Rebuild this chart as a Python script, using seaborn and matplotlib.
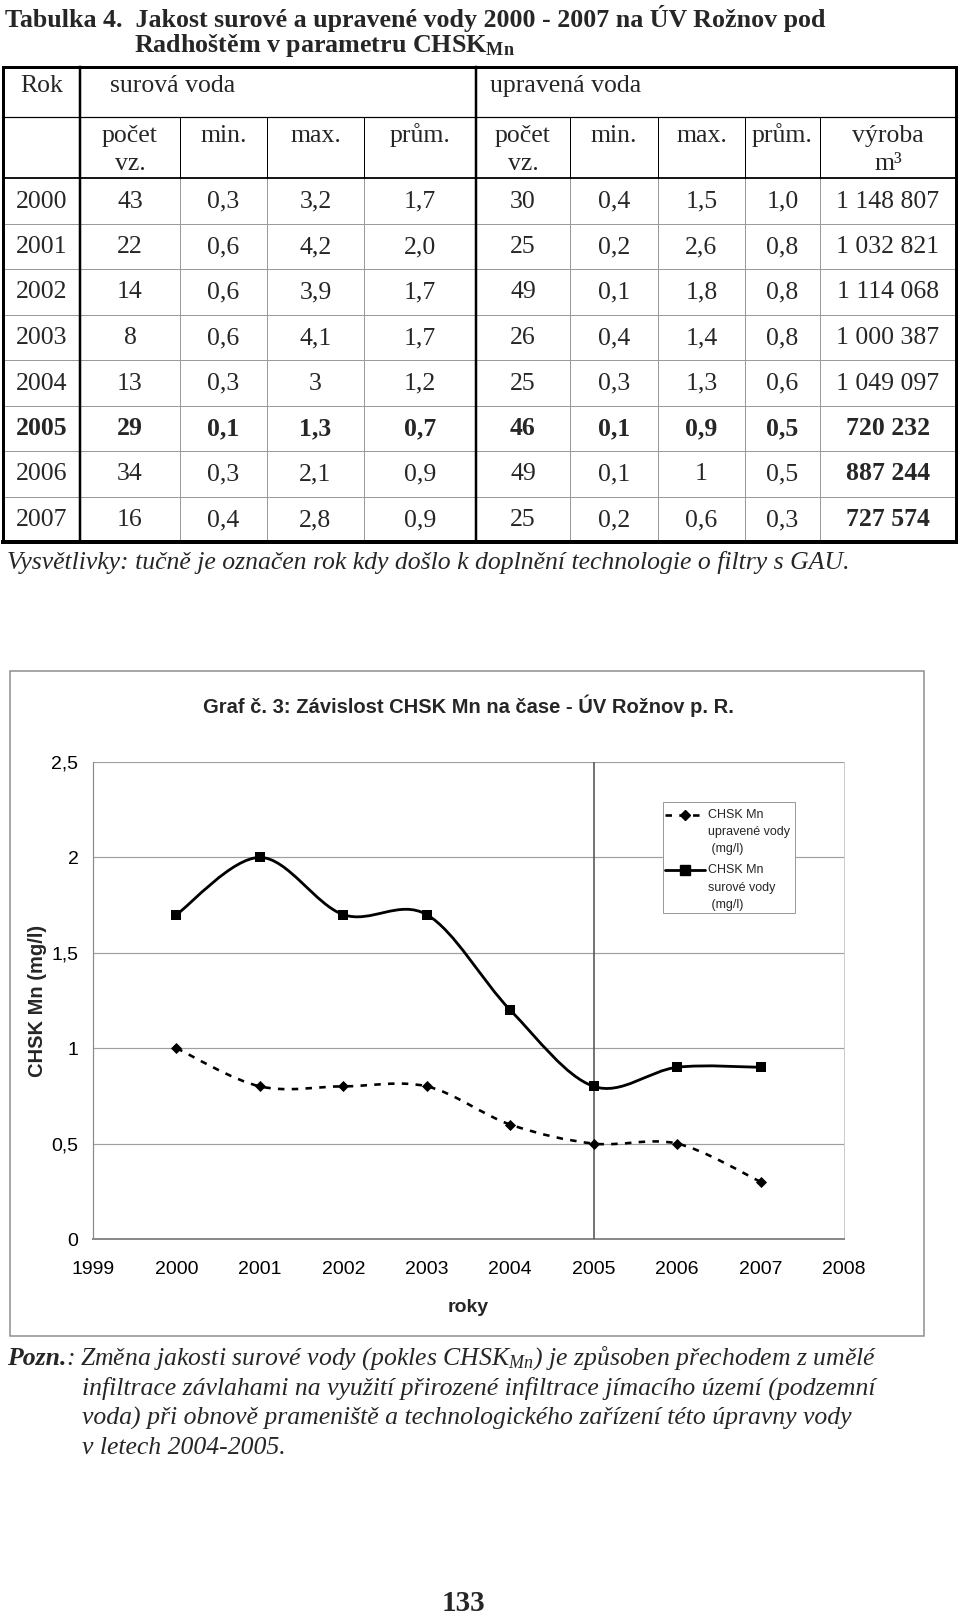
import numpy as np
import matplotlib
matplotlib.use('Agg')
import matplotlib.pyplot as plt
from matplotlib.path import Path
from matplotlib.patches import PathPatch, Rectangle
import seaborn as sns

# ---- table data (Tabulka 4) ----
roky = ['2000', '2001', '2002', '2003', '2004', '2005', '2006', '2007']
sur_pocet = ['43', '22', '14', '8', '13', '29', '34', '16']
sur_min = ['0,3', '0,6', '0,6', '0,6', '0,3', '0,1', '0,3', '0,4']
sur_max = ['3,2', '4,2', '3,9', '4,1', '3', '1,3', '2,1', '2,8']
sur_prum = ['1,7', '2,0', '1,7', '1,7', '1,2', '0,7', '0,9', '0,9']
upr_pocet = ['30', '25', '49', '26', '25', '46', '49', '25']
upr_min = ['0,4', '0,2', '0,1', '0,4', '0,3', '0,1', '0,1', '0,2']
upr_max = ['1,5', '2,6', '1,8', '1,4', '1,3', '0,9', '1', '0,6']
upr_prum = ['1,0', '0,8', '0,8', '0,8', '0,6', '0,5', '0,5', '0,3']
vyroba = ['1 148 807', '1 032 821', '1 114 068', '1 000 387', '1 049 097',
          '720 232', '887 244', '727 574']
bold_rows = ['2005']
bold_vyroba = ['2005', '2006', '2007']

# ---- chart data (Graf c. 3) ----
graf_roky = [2000, 2001, 2002, 2003, 2004, 2005, 2006, 2007]
graf_upravena = [1.0, 0.8, 0.8, 0.8, 0.6, 0.5, 0.5, 0.3]
graf_surova = [1.7, 2.0, 1.7, 1.7, 1.2, 0.8, 0.9, 0.9]
x_ticks = list(range(1999, 2009))
y_ticks = [0, 0.5, 1, 1.5, 2, 2.5]
y_labels = ['0', '0,5', '1', '1,5', '2', '2,5']

sns.set_theme(style='white')
plt.rcParams['font.family'] = ['Liberation Serif', 'DejaVu Serif']
plt.rcParams['mathtext.fontset'] = 'custom'
plt.rcParams['mathtext.rm'] = 'Liberation Serif'
plt.rcParams['mathtext.it'] = 'Liberation Serif:italic'
plt.rcParams['mathtext.bf'] = 'Liberation Serif:bold'

W, H = 960, 1614
fig = plt.figure(figsize=(W / 100, H / 100), dpi=100)
fig.patch.set_facecolor('white')

# page layout axes in pixel coordinates, drawn above the chart axes
bg = fig.add_axes([0, 0, 1, 1])
bg.set_xlim(0, W)
bg.set_ylim(H, 0)
bg.axis('off')
bg.set_zorder(3)

PX = 72 / 100  # points per pixel
SERIF = ['Liberation Serif', 'DejaVu Serif']
SANS = ['Liberation Sans', 'DejaVu Sans']
TFS = 18.5  # table font size
CFS = 14  # chart font size


def line(x0, y0, x1, y1, lw, color='black'):
    bg.plot([x0, x1], [y0, y1], color=color, lw=lw * PX, solid_capstyle='projecting')


# ---- title ----
bg.text(5, 27, 'Tabulka 4.  Jakost surové a upravené vody 2000 - 2007 na ÚV Rožnov pod',
        fontsize=18.7, fontweight='bold', family=SERIF, va='baseline', ha='left')
bg.text(134, 52, r'Radhoštěm v parametru CHSK$_{\mathbf{Mn}}$',
        fontsize=18.7, fontweight='bold', family=SERIF, va='baseline', ha='left')

# ---- table ----
xs = [3, 80, 180, 267, 364, 476, 570, 658, 745, 820, 956]
top, r1, r2 = 67, 117, 178
row_h = 45.5
bottom = r2 + row_h * len(roky)

for i in range(1, len(roky)):
    y = r2 + row_h * i
    line(xs[0], y, xs[-1], y, 1, '#9a9a9a')
for x in xs[1:-1]:
    if x in (80, 476):
        continue
    line(x, r2, x, bottom, 1, '#9a9a9a')
    line(x, r1, x, r2, 1, 'black')
line(xs[0], r1, xs[-1], r1, 1.2)
line(xs[0], r2, xs[-1], r2, 1.8)
line(80, top, 80, bottom, 2.5)
line(476, top, 476, bottom, 2.5)
line(xs[0], top, xs[-1], top, 3)
line(xs[0], top, xs[0], bottom, 3)
line(xs[-1], top, xs[-1], bottom, 3)
line(xs[0], bottom, xs[-1], bottom, 4)

bg.text((xs[0] + xs[1]) / 2, 92, 'Rok', fontsize=TFS, family=SERIF, ha='center', va='baseline')
bg.text(110, 92, 'surová voda', fontsize=TFS, family=SERIF, ha='left', va='baseline')
bg.text(490, 92, 'upravená voda', fontsize=TFS, family=SERIF, ha='left', va='baseline')
head1 = ['počet', 'min.', 'max.', 'prům.', 'počet', 'min.', 'max.', 'prům.', 'výroba']
head2 = ['vz.', '', '', '', 'vz.', '', '', '', 'm³']
for j in range(9):
    cx = (xs[j + 1] + xs[j + 2]) / 2
    bg.text(cx, 142, head1[j], fontsize=TFS, family=SERIF, ha='center', va='baseline')
    if head2[j]:
        bg.text(cx, 170, head2[j], fontsize=TFS, family=SERIF, ha='center', va='baseline')

cols = [roky, sur_pocet, sur_min, sur_max, sur_prum,
        upr_pocet, upr_min, upr_max, upr_prum, vyroba]
for i, rok in enumerate(roky):
    yb = r2 + row_h * i + 29.5
    for j, col in enumerate(cols):
        bold = rok in bold_rows or (j == 9 and rok in bold_vyroba)
        bg.text((xs[j] + xs[j + 1]) / 2, yb, col[i], fontsize=TFS, family=SERIF,
                fontweight='bold' if bold else 'normal', ha='center', va='baseline')

bg.text(7, 569, 'Vysvětlivky: tučně je označen rok kdy došlo k doplnění technologie o filtry s GAU.',
        fontsize=TFS, family=SERIF, style='italic', ha='left', va='baseline')

# ---- chart frame ----
bg.add_patch(Rectangle((10, 671), 914, 665, fill=False, ec='#8c8c8c', lw=1.5 * PX))
bg.text(468, 706, 'Graf č. 3: Závislost CHSK Mn na čase - ÚV Rožnov p. R.',
        fontsize=14.5, fontweight='bold', family=SANS, ha='center', va='center')

ax = fig.add_axes([93 / W, 1 - 1239 / H, 751 / W, 477 / H])
ax.set_facecolor('white')
ax.set_zorder(1)


def smooth_path(xv, yv):
    pts = np.column_stack([xv, yv]).astype(float)
    n = len(pts)
    verts, codes = [pts[0]], [Path.MOVETO]
    for i in range(n - 1):
        p0, p1 = pts[max(i - 1, 0)], pts[i]
        p2, p3 = pts[i + 1], pts[min(i + 2, n - 1)]
        verts += [p1 + (p2 - p0) / 6, p2 - (p3 - p1) / 6, p2]
        codes += [Path.CURVE4] * 3
    return Path(verts, codes)


ax.add_patch(PathPatch(smooth_path(graf_roky, graf_surova), fill=False,
                       ec='black', lw=2.8 * PX, zorder=4))
ax.add_patch(PathPatch(smooth_path(graf_roky, graf_upravena), fill=False,
                       ec='black', lw=2.6 * PX, ls=(0, (2.5, 2.8)), zorder=4))
sns.scatterplot(x=graf_roky, y=graf_surova, marker='s', s=56, color='black',
                edgecolor='black', linewidth=0, ax=ax, zorder=5)
sns.scatterplot(x=graf_roky, y=graf_upravena, marker='D', s=32, color='black',
                edgecolor='black', linewidth=0, ax=ax, zorder=5)

ax.axvline(2005, color='#555555', lw=1.6 * PX, zorder=3)
ax.set_xlim(1999, 2008)
ax.set_ylim(0, 2.5)
ax.set_xticks(x_ticks)
ax.set_xticklabels([str(t) for t in x_ticks], family=SANS, fontsize=CFS)
ax.set_yticks(y_ticks)
ax.set_yticklabels(y_labels, family=SANS, fontsize=CFS)
ax.yaxis.grid(True, color='#a0a0a0', lw=1.2 * PX)
ax.xaxis.grid(False)
ax.set_axisbelow(True)
ax.tick_params(axis='y', length=0, pad=10.5, colors='black')
ax.tick_params(axis='x', direction='in', length=4, width=1 * PX, color='#a0a0a0',
               pad=16, labelcolor='black')
ax.spines['top'].set_visible(False)
ax.spines['left'].set_color('#8a8a8a')
ax.spines['left'].set_linewidth(1.2 * PX)
ax.spines['bottom'].set_color('#8a8a8a')
ax.spines['bottom'].set_linewidth(2 * PX)
ax.spines['right'].set_color('#cccccc')
ax.spines['right'].set_linewidth(1 * PX)

ax.set_ylabel('CHSK Mn (mg/l)', family=SANS, fontweight='bold', fontsize=14.5)
ax.yaxis.set_label_coords((38 - 93) / 751, 0.5)
ax.yaxis.label.set_va('center')
ax.set_xlabel('roky', family=SANS, fontweight='bold', fontsize=CFS)
ax.xaxis.set_label_coords(0.5, -(1307 - 1239) / 477)
ax.xaxis.label.set_va('center')

# ---- legend (handle aligned with first text line, as in the source) ----
bg.add_patch(Rectangle((663, 802), 132, 111, fc='white', ec='#9a9a9a', lw=1 * PX))
bg.plot([665, 705], [815, 815], color='black', lw=2.6 * PX, ls=(0, (2.5, 2.8)))
bg.plot([685], [815], marker='D', ms=5.6, color='black', lw=0)
bg.plot([665, 705], [870, 870], color='black', lw=2.8 * PX)
bg.plot([685], [870], marker='s', ms=7.2, color='black', lw=0)
for k, t in enumerate(['CHSK Mn', 'upravené vody', ' (mg/l)']):
    bg.text(708, 815 + 17 * k, t, family=SANS, fontsize=9, ha='left', va='center')
for k, t in enumerate(['CHSK Mn', 'surové vody', ' (mg/l)']):
    bg.text(708, 870 + 17.5 * k, t, family=SANS, fontsize=9, ha='left', va='center')

# ---- note ----
fig.canvas.draw()
rend = fig.canvas.get_renderer()
p1 = bg.text(7, 1365, 'Pozn.', fontsize=TFS, family=SERIF, fontweight='bold',
             style='italic', ha='left', va='baseline')
ext = p1.get_window_extent(rend)
bg.text(ext.x1, 1365, ':', fontsize=TFS, family=SERIF, style='italic',
        ha='left', va='baseline')
note = [r'Změna jakosti surové vody (pokles CHSK$_{Mn}$) je způsoben přechodem z umělé',
        'infiltrace závlahami na využití přirozené infiltrace jímacího území (podzemní',
        'voda) při obnově prameniště a technologického zařízení této úpravny vody',
        'v letech 2004-2005.']
for k, t in enumerate(note):
    bg.text(82 if k else 80, 1365 + 29.7 * k, t, fontsize=TFS, family=SERIF,
            style='italic', ha='left', va='baseline')

bg.text(463, 1611, '133', fontsize=21, family=SERIF, fontweight='bold',
        ha='center', va='baseline')

fig.savefig('out.png', dpi=100)
